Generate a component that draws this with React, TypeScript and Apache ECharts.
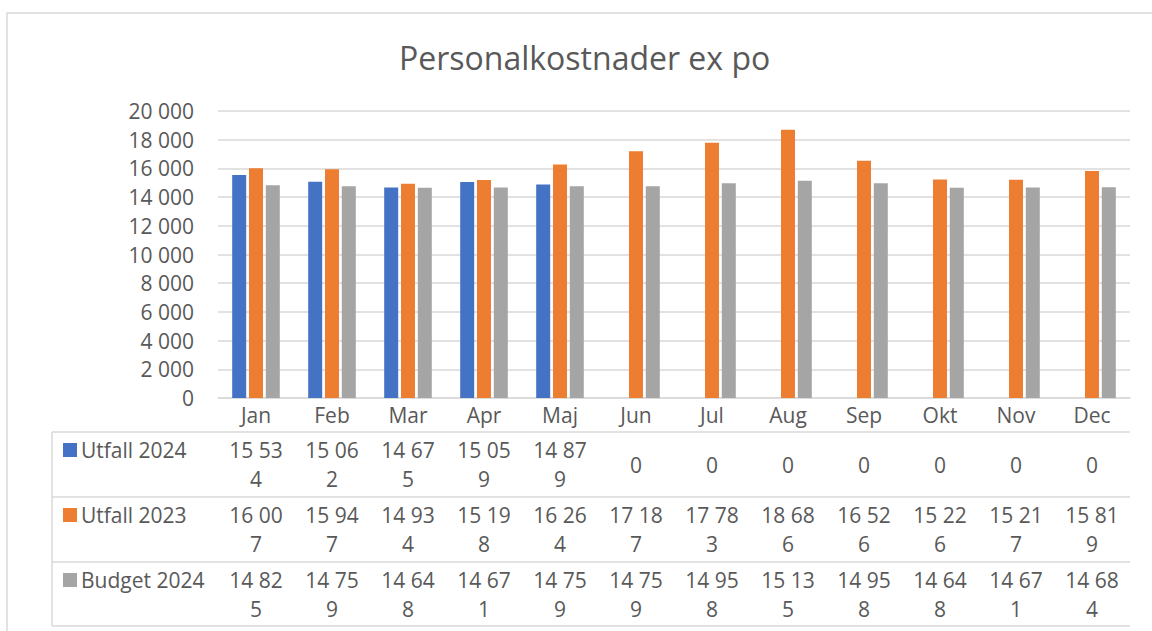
import React, { useEffect, useRef } from "react";
import * as echarts from "echarts";

const months = ["Jan", "Feb", "Mar", "Apr", "Maj", "Jun", "Jul", "Aug", "Sep", "Okt", "Nov", "Dec"];
const utfall2024 = [15534, 15062, 14675, 15059, 14879, 0, 0, 0, 0, 0, 0, 0];
const utfall2023 = [16007, 15947, 14934, 15198, 16264, 17187, 17783, 18686, 16526, 15226, 15217, 15819];
const budget2024 = [14825, 14759, 14648, 14671, 14759, 14759, 14958, 15135, 14958, 14648, 14671, 14684];
const seriesNames = ["Utfall 2024", "Utfall 2023", "Budget 2024"];
const seriesColors = ["#4472C4", "#ED7D31", "#A5A5A5"];
const titleText = "Personalkostnader ex po";

const FONT = "'Open Sans', sans-serif";
const TEXT = "#595959";
const LINE = "#d9d9d9";

const fmt = (n: number) => String(n).replace(/\B(?=(\d{3})+(?!\d))/g, " ");
const wrap = (s: string) => (s.length > 5 ? s.slice(0, 5) + "\n" + s.slice(5) : s);

export default function App() {
  const ref = useRef<HTMLDivElement>(null);
  useEffect(() => {
    document.body.style.margin = "0";
    const chart = echarts.init(ref.current!, null, { renderer: "svg" });
    const allData = [utfall2024, utfall2023, budget2024];
    chart.setOption({
      animation: false,
      title: {
        text: titleText,
        left: 394,
        top: 36,
        textStyle: { fontFamily: FONT, fontSize: 32, fontWeight: "normal", color: TEXT },
      },
      grid: { left: 218, right: 22, top: 111, bottom: 233 },
      xAxis: {
        type: "category",
        data: months,
        axisLine: { lineStyle: { color: LINE, width: 1.5 } },
        axisTick: { length: 228, lineStyle: { color: LINE, width: 1.5 } },
        axisLabel: { color: TEXT, fontSize: 21, margin: 6, fontFamily: FONT },
      },
      yAxis: {
        type: "value",
        min: 0,
        max: 20000,
        interval: 2000,
        axisLine: { show: false },
        axisTick: { show: false },
        splitLine: { lineStyle: { color: LINE, width: 1.5 } },
        axisLabel: { color: TEXT, fontSize: 21, margin: 24, fontFamily: FONT, formatter: (v: number) => fmt(v) },
      },
      series: allData.map((d, i) => ({
        type: "bar",
        name: seriesNames[i],
        data: d,
        barWidth: 14,
        barGap: "20%",
        itemStyle: { color: seriesColors[i] },
      })),
    });

    const rowTops = [432, 497, 562];
    const tableBottom = 626;
    const tableLeft = 52;
    const tableRight = 1130;
    const g: any[] = [];
    g.push({
      type: "rect",
      shape: { x: 7, y: 13, width: 1300, height: 800 },
      style: { fill: "none", stroke: LINE, lineWidth: 1.5 },
      silent: true,
    });
    [...rowTops, tableBottom].forEach((y) => {
      g.push({ type: "line", shape: { x1: tableLeft, y1: y, x2: tableRight, y2: y }, style: { stroke: LINE, lineWidth: 1.5 } });
    });
    g.push({ type: "line", shape: { x1: tableLeft, y1: rowTops[0], x2: tableLeft, y2: tableBottom }, style: { stroke: LINE, lineWidth: 1.5 } });
    allData.forEach((d, r) => {
      const top = rowTops[r];
      g.push({ type: "rect", shape: { x: 63, y: top + 11, width: 14, height: 14 }, style: { fill: seriesColors[r] } });
      g.push({
        type: "text",
        x: 81,
        y: top + 18,
        style: { text: seriesNames[r], fontFamily: FONT, fontSize: 21, fill: TEXT, verticalAlign: "middle", align: "left" },
      });
      d.forEach((v, i) => {
        const x = chart.convertToPixel({ xAxisIndex: 0 }, i) as number;
        g.push({
          type: "text",
          x,
          y: top + 32.5,
          style: {
            text: wrap(fmt(v)),
            fontFamily: FONT,
            fontSize: 21,
            lineHeight: 29,
            fill: TEXT,
            align: "center",
            verticalAlign: "middle",
          },
        });
      });
    });
    chart.setOption({ graphic: g });
    return () => chart.dispose();
  }, []);
  return <div ref={ref} style={{ width: 1152, height: 631 }} />;
}
